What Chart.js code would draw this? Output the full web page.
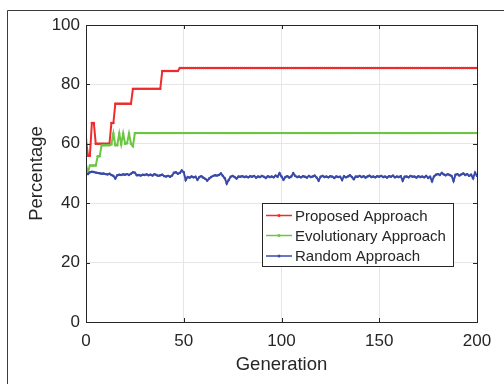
<!DOCTYPE html>
<html>
<head>
    <meta charset="UTF-8">
    <title>Percentage per Generation</title>
    <script src="https://cdn.jsdelivr.net/npm/chart.js"></script>
    <style>
        html, body {
            margin: 0;
            padding: 0;
            background: #ffffff;
        }

        .chart-container {
            position: relative;
            width: 504px;
            height: 384px;
        }
    </style>
</head>
<body>
    <div class="chart-container">
        <canvas id="genChart"></canvas>
    </div>

    <script>
        // generations 0..200 (x axis)
        var generations = Array.from({ length: 201 }, function (_, i) { return i; });
        var xTicks = [0, 50, 100, 150, 200];
        var yTicks = [0, 20, 40, 60, 80, 100];

        var seriesNames = ['Proposed Approach', 'Evolutionary Approach', 'Random Approach'];

        var proposed = [
            61.5, 56, 56, 67, 67, 60, 60, 60, 60, 60,
            60, 60, 60, 67, 67, 73.5, 73.5, 73.5, 73.5, 73.5,
            73.5, 73.5, 73.5, 73.5, 78.5, 78.5, 78.5, 78.5, 78.5, 78.5,
            78.5, 78.5, 78.5, 78.5, 78.5, 78.5, 78.5, 78.5, 78.5, 84.5,
            84.5, 84.5, 84.5, 84.5, 84.5, 84.5, 84.5, 84.5, 85.5, 85.5,
            85.5, 85.5, 85.5, 85.5, 85.5, 85.5, 85.5, 85.5, 85.5, 85.5,
            85.5, 85.5, 85.5, 85.5, 85.5, 85.5, 85.5, 85.5, 85.5, 85.5,
            85.5, 85.5, 85.5, 85.5, 85.5, 85.5, 85.5, 85.5, 85.5, 85.5,
            85.5, 85.5, 85.5, 85.5, 85.5, 85.5, 85.5, 85.5, 85.5, 85.5,
            85.5, 85.5, 85.5, 85.5, 85.5, 85.5, 85.5, 85.5, 85.5, 85.5,
            85.5, 85.5, 85.5, 85.5, 85.5, 85.5, 85.5, 85.5, 85.5, 85.5,
            85.5, 85.5, 85.5, 85.5, 85.5, 85.5, 85.5, 85.5, 85.5, 85.5,
            85.5, 85.5, 85.5, 85.5, 85.5, 85.5, 85.5, 85.5, 85.5, 85.5,
            85.5, 85.5, 85.5, 85.5, 85.5, 85.5, 85.5, 85.5, 85.5, 85.5,
            85.5, 85.5, 85.5, 85.5, 85.5, 85.5, 85.5, 85.5, 85.5, 85.5,
            85.5, 85.5, 85.5, 85.5, 85.5, 85.5, 85.5, 85.5, 85.5, 85.5,
            85.5, 85.5, 85.5, 85.5, 85.5, 85.5, 85.5, 85.5, 85.5, 85.5,
            85.5, 85.5, 85.5, 85.5, 85.5, 85.5, 85.5, 85.5, 85.5, 85.5,
            85.5, 85.5, 85.5, 85.5, 85.5, 85.5, 85.5, 85.5, 85.5, 85.5,
            85.5, 85.5, 85.5, 85.5, 85.5, 85.5, 85.5, 85.5, 85.5, 85.5,
            85.5
        ];

        var evolutionary = [
            52.8, 50.5, 52.7, 52.7, 52.7, 52.7, 55.8, 55.8, 59.5, 59.5,
            59.5, 59.5, 59.5, 59.8, 63.5, 59.5, 59.5, 63.5, 59.8, 63.5,
            60, 60.2, 63.5, 60, 59.2, 63.6, 63.6, 63.6, 63.6, 63.6,
            63.6, 63.6, 63.6, 63.6, 63.6, 63.6, 63.6, 63.6, 63.6, 63.6,
            63.6, 63.6, 63.6, 63.6, 63.6, 63.6, 63.6, 63.6, 63.6, 63.6,
            63.6, 63.6, 63.6, 63.6, 63.6, 63.6, 63.6, 63.6, 63.6, 63.6,
            63.6, 63.6, 63.6, 63.6, 63.6, 63.6, 63.6, 63.6, 63.6, 63.6,
            63.6, 63.6, 63.6, 63.6, 63.6, 63.6, 63.6, 63.6, 63.6, 63.6,
            63.6, 63.6, 63.6, 63.6, 63.6, 63.6, 63.6, 63.6, 63.6, 63.6,
            63.6, 63.6, 63.6, 63.6, 63.6, 63.6, 63.6, 63.6, 63.6, 63.6,
            63.6, 63.6, 63.6, 63.6, 63.6, 63.6, 63.6, 63.6, 63.6, 63.6,
            63.6, 63.6, 63.6, 63.6, 63.6, 63.6, 63.6, 63.6, 63.6, 63.6,
            63.6, 63.6, 63.6, 63.6, 63.6, 63.6, 63.6, 63.6, 63.6, 63.6,
            63.6, 63.6, 63.6, 63.6, 63.6, 63.6, 63.6, 63.6, 63.6, 63.6,
            63.6, 63.6, 63.6, 63.6, 63.6, 63.6, 63.6, 63.6, 63.6, 63.6,
            63.6, 63.6, 63.6, 63.6, 63.6, 63.6, 63.6, 63.6, 63.6, 63.6,
            63.6, 63.6, 63.6, 63.6, 63.6, 63.6, 63.6, 63.6, 63.6, 63.6,
            63.6, 63.6, 63.6, 63.6, 63.6, 63.6, 63.6, 63.6, 63.6, 63.6,
            63.6, 63.6, 63.6, 63.6, 63.6, 63.6, 63.6, 63.6, 63.6, 63.6,
            63.6, 63.6, 63.6, 63.6, 63.6, 63.6, 63.6, 63.6, 63.6, 63.6,
            63.6
        ];

        var random = [
            50.0, 49.8, 50.4, 50.6, 50.5, 50.3, 50.2, 50.1, 49.9, 50.0,
            49.8, 49.7, 49.9, 49.5, 49.2, 48.3, 49.4, 49.6, 49.5, 49.7,
            49.6, 49.8, 49.5, 49.9, 50.4, 50.3, 49.4, 49.5, 49.3, 49.6,
            49.5, 49.7, 49.4, 49.6, 49.3, 49.8, 49.5, 49.2, 49.4, 49.6,
            49.1, 49.0, 49.2, 48.9, 49.3, 50.3, 50.4, 49.9, 50.2, 51.0,
            50.4, 47.8, 48.8, 48.6, 49.0, 48.7, 48.9, 47.9, 48.8, 49.1,
            48.6, 48.2, 47.6, 48.3, 48.8, 49.2, 49.4, 49.3, 49.5, 50.0,
            49.2, 48.4, 46.6, 47.8, 48.9, 49.2, 48.8, 48.3, 49.0, 48.9,
            49.1, 48.8, 49.0, 48.7, 49.1, 48.9, 49.2, 48.6, 49.0, 48.8,
            49.2, 48.9, 48.5, 49.1, 48.8, 49.0, 48.7, 49.3, 48.9, 50.1,
            49.0, 47.9, 48.8, 49.1, 48.6, 49.0, 50.1, 49.2, 48.8, 49.0,
            48.7, 49.1, 48.9, 48.6, 49.2, 48.8, 49.0, 49.3, 48.6, 47.6,
            48.9, 49.2, 48.8, 49.0, 48.7, 49.1, 48.9, 48.5, 49.0, 48.8,
            48.9, 47.8, 49.1, 48.7, 49.0, 49.4, 48.8, 48.1, 49.0, 48.9,
            49.2, 48.8, 49.1, 48.6, 49.0, 49.3, 48.8, 49.0, 48.7, 49.1,
            48.9, 49.2, 48.8, 49.0, 48.6, 49.1, 48.9, 49.3, 48.7, 49.0,
            48.8, 49.1, 47.6, 48.9, 49.0, 48.7, 49.2, 48.9, 49.0, 48.6,
            49.1, 48.8, 49.0, 48.7, 49.2, 48.5, 48.9, 47.4, 49.0, 49.6,
            49.8, 49.5, 50.2, 49.7, 49.4, 49.8, 49.5, 49.2, 47.5, 49.6,
            49.8, 49.3, 49.7, 50.0, 49.5, 49.8, 49.2, 49.6, 48.4, 50.3,
            49.2
        ];

        var colors = ['#ee2c2c', '#6cc644', '#3a4aa8'];
        var textColor = '#262626';
        var fontFamily = '"Liberation Sans", Arial, sans-serif';

        // figure frame, axes box, inward ticks and the legend box
        var decorPlugin = {
            id: 'decor',
            beforeDraw: function (chart) {
                var ctx = chart.ctx;
                ctx.save();
                ctx.fillStyle = '#ffffff';
                ctx.fillRect(0, 0, chart.width, chart.height);
                ctx.strokeStyle = '#3c3c3c';
                ctx.lineWidth = 1;
                ctx.beginPath();
                ctx.moveTo(7.5, chart.height);
                ctx.lineTo(7.5, 10.5);
                ctx.lineTo(chart.width, 10.5);
                ctx.stroke();
                ctx.restore();
            },
            afterDatasetsDraw: function (chart) {
                var ctx = chart.ctx;
                var a = chart.chartArea;
                var xs = chart.scales.x, ys = chart.scales.y;
                ctx.save();
                ctx.strokeStyle = textColor;
                ctx.lineWidth = 1;
                ctx.strokeRect(Math.round(a.left) + 0.5, Math.round(a.top) + 0.5,
                    Math.round(a.right - a.left), Math.round(a.bottom - a.top));
                ctx.beginPath();
                yTicks.forEach(function (v) {
                    var py = Math.round(ys.getPixelForValue(v)) + 0.5;
                    ctx.moveTo(a.left, py); ctx.lineTo(a.left + 4, py);
                    ctx.moveTo(a.right, py); ctx.lineTo(a.right - 4, py);
                });
                xTicks.forEach(function (v) {
                    var px = Math.round(xs.getPixelForValue(v)) + 0.5;
                    ctx.moveTo(px, a.bottom); ctx.lineTo(px, a.bottom - 4);
                    ctx.moveTo(px, a.top); ctx.lineTo(px, a.top + 4);
                });
                ctx.stroke();

                // legend
                var bx = 262.5, by = 203.5, bw = 191, bh = 63;
                ctx.fillStyle = '#ffffff';
                ctx.fillRect(bx, by, bw, bh);
                ctx.strokeStyle = textColor;
                ctx.strokeRect(bx, by, bw, bh);
                ctx.font = '15px ' + fontFamily;
                ctx.textBaseline = 'middle';
                ctx.textAlign = 'left';
                var rows = [215.5, 235.5, 256];
                seriesNames.forEach(function (name, i) {
                    ctx.strokeStyle = colors[i];
                    ctx.lineWidth = 1.5;
                    ctx.beginPath();
                    ctx.moveTo(266, rows[i]);
                    ctx.lineTo(292, rows[i]);
                    ctx.stroke();
                    ctx.fillStyle = colors[i];
                    ctx.beginPath();
                    ctx.arc(279, rows[i], 1.5, 0, Math.PI * 2);
                    ctx.fill();
                    ctx.fillStyle = textColor;
                    ctx.fillText(name, 295, rows[i] + 1);
                });
                ctx.restore();
            }
        };

        var ctx = document.getElementById('genChart').getContext('2d');
        var genChart = new Chart(ctx, {
            type: 'line',
            data: {
                labels: generations,
                datasets: [proposed, evolutionary, random].map(function (values, i) {
                    return {
                        label: seriesNames[i],
                        data: values,
                        borderColor: colors[i],
                        backgroundColor: colors[i],
                        borderWidth: 2,
                        pointRadius: 1.2,
                        pointBorderWidth: 0,
                        pointHoverRadius: 0,
                        tension: 0,
                        fill: false
                    };
                }).reverse()
            },
            options: {
                responsive: true,
                maintainAspectRatio: false,
                animation: false,
                layout: {
                    padding: { left: 0, right: 27, top: 25, bottom: 0 }
                },
                plugins: {
                    legend: { display: false },
                    tooltip: { enabled: false }
                },
                scales: {
                    x: {
                        type: 'linear',
                        min: 0,
                        max: 200,
                        afterBuildTicks: function (scale) {
                            scale.ticks = xTicks.map(function (v) { return { value: v }; });
                        },
                        afterFit: function (scale) { scale.height = 62; },
                        grid: { color: '#e6e6e6', drawTicks: false },
                        border: { display: false },
                        ticks: {
                            color: textColor,
                            padding: 9,
                            maxRotation: 0,
                            font: { family: fontFamily, size: 17 }
                        },
                        title: {
                            display: true,
                            text: 'Generation',
                            color: textColor,
                            padding: { top: 0, bottom: 8 },
                            font: { family: fontFamily, size: 18.5 }
                        }
                    },
                    y: {
                        min: 0,
                        max: 100,
                        afterBuildTicks: function (scale) {
                            scale.ticks = yTicks.map(function (v) { return { value: v }; });
                        },
                        afterFit: function (scale) { scale.width = 86; },
                        grid: { color: '#e6e6e6', drawTicks: false },
                        border: { display: false },
                        ticks: {
                            color: textColor,
                            padding: 6,
                            font: { family: fontFamily, size: 17 }
                        },
                        title: {
                            display: true,
                            text: 'Percentage',
                            color: textColor,
                            padding: { top: 26, bottom: 0 },
                            font: { family: fontFamily, size: 18.5 }
                        }
                    }
                }
            },
            plugins: [decorPlugin]
        });
    </script>
</body>
</html>
